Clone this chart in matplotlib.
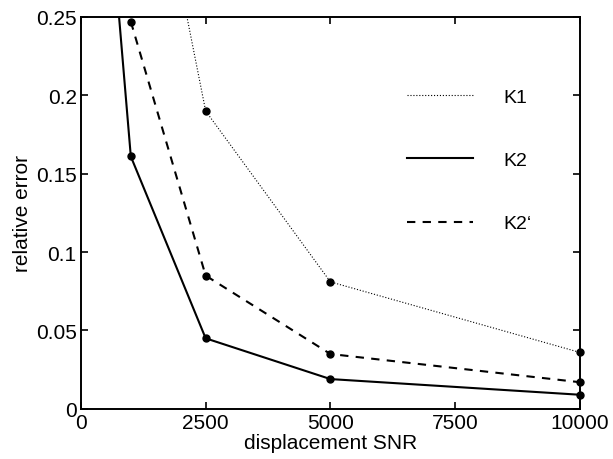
import matplotlib
matplotlib.use("Agg")
import matplotlib.pyplot as plt

plt.rcParams['font.family'] = ['Liberation Sans', 'DejaVu Sans']

# Werte
snr_k1 = [1000, 2500, 5000, 10000]
err_k1 = [0.43, 0.190, 0.081, 0.036]

snr_k2 = [500, 1000, 2500, 5000, 10000]
err_k2 = [0.35, 0.161, 0.045, 0.019, 0.009]

snr_k2s = [1000, 2500, 5000, 10000]
err_k2s = [0.247, 0.085, 0.035, 0.017]

xticks = [0, 2500, 5000, 7500, 10000]
yticks = [0, 0.05, 0.1, 0.15, 0.2, 0.25]
ytick_labels = ['0', '0.05', '0.1', '0.15', '0.2', '0.25']
ymax = 0.25

fig = plt.figure(figsize=(6.13, 4.6), dpi=100)
ax = fig.add_axes([0.132, 0.109, 0.814, 0.852])

# Linien ohne Marker fuer die Legende, Punkte separat
ax.plot(snr_k1, err_k1, color='black', linestyle=':', linewidth=0.8, label='K1')
ax.plot(snr_k2, err_k2, color='black', linestyle='-', linewidth=1.5, label='K2')
ax.plot(snr_k2s, err_k2s, color='black', linestyle=(0, (4, 3.5)), linewidth=1.5, label='K2‘')

# Punkte nur innerhalb des sichtbaren Bereichs, nicht abgeschnitten am Rand
for xs, ys in [(snr_k1, err_k1), (snr_k2, err_k2), (snr_k2s, err_k2s)]:
    px = [x for x, y in zip(xs, ys) if y <= ymax]
    py = [y for y in ys if y <= ymax]
    ax.plot(px, py, 'o', color='black', markersize=5, clip_on=False, zorder=5)

ax.set_xlim(0, 10000)
ax.set_ylim(0, ymax)
ax.set_xticks(xticks)
ax.set_xticklabels([str(t) for t in xticks])
ax.set_yticks(yticks)
ax.set_yticklabels(ytick_labels)
ax.tick_params(direction='in', top=True, right=True, length=5, width=1.2,
               labelsize=15, pad=3)
for s in ax.spines.values():
    s.set_linewidth(1.4)

ax.set_xlabel('displacement SNR', fontsize=15, labelpad=1)
ax.set_ylabel('relative error', fontsize=15, labelpad=3)

ax.legend(loc='upper left', bbox_to_anchor=(0.654, 0.818), frameon=False,
          fontsize=14, handlelength=3.4, handletextpad=1.55, labelspacing=2.35,
          borderpad=0, borderaxespad=0)

plt.savefig('out.png', dpi=100)
